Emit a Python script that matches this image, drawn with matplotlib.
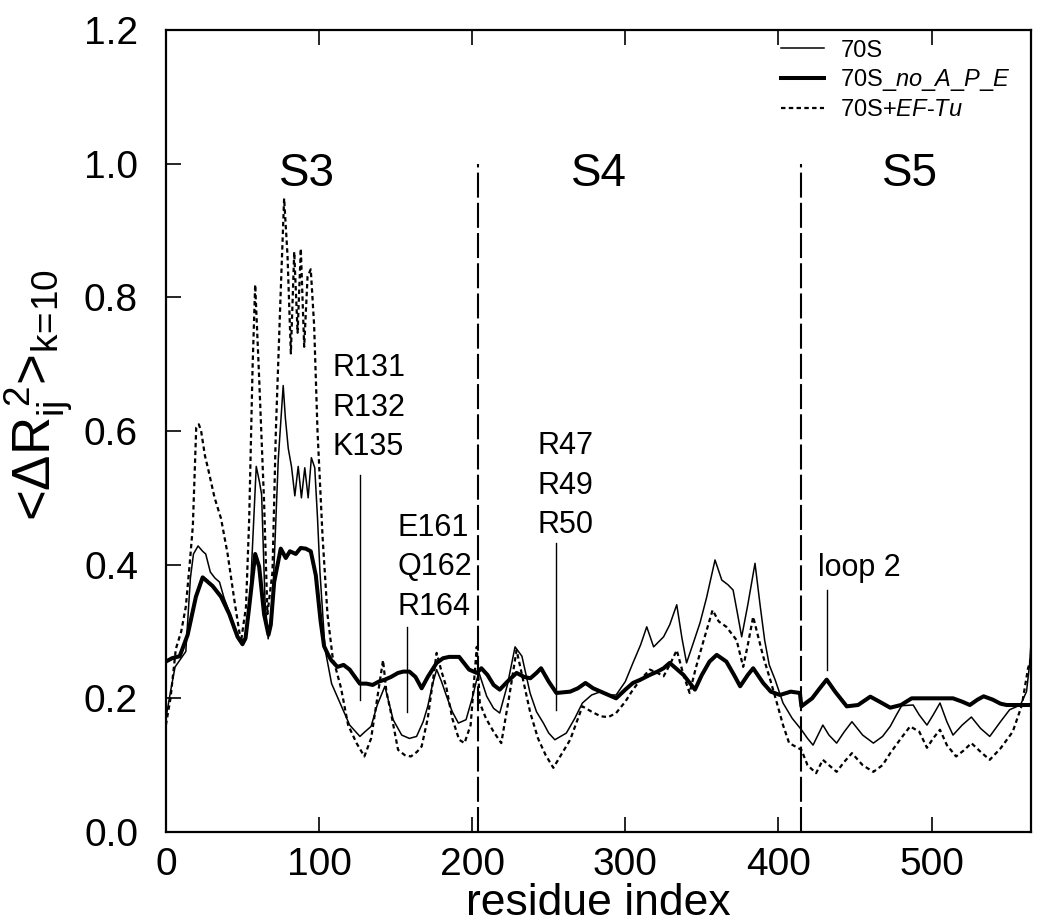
import matplotlib
matplotlib.use("Agg")
import matplotlib.pyplot as plt

plt.rcParams['font.family'] = ['Liberation Sans', 'DejaVu Sans']
plt.rcParams['mathtext.fontset'] = 'custom'
plt.rcParams['mathtext.rm'] = 'Liberation Sans'
plt.rcParams['mathtext.it'] = 'Liberation Sans:italic'
plt.rcParams['mathtext.bf'] = 'Liberation Sans:bold'

# 70S (thin solid)
thin_x = [0, 3, 6, 10, 13, 16, 18, 21, 24, 26, 29, 32, 35, 38, 42, 45, 48, 52, 55, 57,
          59, 61, 62.5, 64.7, 66.8, 68.5, 70, 73.4, 76.6, 78, 79.9, 82, 84.2, 86.4, 88.5,
          90.7, 92.9, 95, 97.2, 99, 100.6, 103.9, 108.2, 113.7, 120, 126.7, 130, 134, 138,
          143, 148.4, 154, 159, 163.7, 168, 171, 174, 176.8, 180, 183.3, 187, 191, 196, 200,
          203, 204.5, 209.5, 214, 218, 223, 228, 232.5, 237.8, 242, 246.5, 250, 254, 261.5,
          267, 272, 278, 284, 289, 294, 300, 305, 310, 314, 318.5, 322, 325, 329, 333.6,
          337, 340, 344, 348.8, 353, 358.6, 363, 367, 370.4, 373, 376, 380, 384.7, 388,
          391, 394, 397.8, 403, 409, 415, 419, 422.6, 429, 433, 438, 443, 448, 455, 462,
          468, 473, 477, 480.5, 488, 492, 497, 501, 505.5, 510, 514, 520, 526, 532, 538,
          545, 551, 558, 562, 564, 565]
thin_y = [0.17, 0.21, 0.247, 0.26, 0.27, 0.38, 0.416, 0.428, 0.42, 0.416, 0.389, 0.38, 0.374,
          0.35, 0.326, 0.305, 0.289, 0.287, 0.352, 0.45, 0.547, 0.525, 0.505, 0.347, 0.289,
          0.32, 0.363, 0.558, 0.668, 0.62, 0.574, 0.547, 0.503, 0.547, 0.5, 0.545, 0.5, 0.56,
          0.545, 0.47, 0.389, 0.274, 0.222, 0.193, 0.16, 0.143, 0.15, 0.158, 0.19, 0.218,
          0.168, 0.145, 0.14, 0.143, 0.165, 0.188, 0.22, 0.243, 0.225, 0.203, 0.18, 0.163,
          0.168, 0.2, 0.228, 0.238, 0.203, 0.185, 0.178, 0.22, 0.277, 0.263, 0.208, 0.18,
          0.163, 0.148, 0.138, 0.148, 0.17, 0.193, 0.205, 0.21, 0.205, 0.205, 0.225, 0.253,
          0.28, 0.307, 0.277, 0.285, 0.292, 0.31, 0.34, 0.29, 0.253, 0.28, 0.313, 0.35,
          0.407, 0.377, 0.37, 0.362, 0.33, 0.292, 0.34, 0.402, 0.34, 0.287, 0.25, 0.228,
          0.193, 0.17, 0.153, 0.14, 0.13, 0.16, 0.145, 0.133, 0.15, 0.165, 0.145, 0.133,
          0.143, 0.158, 0.175, 0.189, 0.19, 0.175, 0.16, 0.175, 0.193, 0.165, 0.145, 0.16,
          0.172, 0.155, 0.143, 0.165, 0.183, 0.19, 0.21, 0.25, 0.285]

# 70S_no_A_P_E (thick solid)
thick_x = [0, 4, 9, 14.2, 19.6, 24, 27, 30.5, 36, 41.4, 46.8, 50, 52, 54.4, 58.3, 60.9, 64.1,
           67, 68.5, 70.7, 75, 78.3, 81, 84.8, 88, 91.3, 94.6, 97.9, 101, 103.3, 106, 108,
           112, 116, 120, 126.6, 131, 135, 139, 143, 147, 151.6, 155, 159, 163, 167, 171,
           176.8, 181, 185, 191.5, 198, 203, 206, 210, 214, 218, 223, 229, 234, 238, 242,
           245, 250, 255, 264, 269, 274, 279, 284, 289, 294, 300, 305, 310, 316, 321, 325,
           329, 333, 338, 345.5, 350, 355, 359.7, 366, 371, 375, 380, 383.5, 390, 395, 401,
           408, 414, 415, 422, 427, 431.5, 437, 444.6, 452, 460, 466, 473, 480, 487, 494.6,
           500, 507, 514, 520, 525, 530, 534, 540, 545, 549, 556, 565]
thick_y = [0.255, 0.26, 0.263, 0.295, 0.352, 0.381, 0.375, 0.368, 0.352, 0.326, 0.292, 0.281,
           0.29, 0.337, 0.416, 0.397, 0.326, 0.295, 0.31, 0.374, 0.424, 0.41, 0.42, 0.416,
           0.425, 0.424, 0.42, 0.384, 0.316, 0.278, 0.265, 0.257, 0.247, 0.25, 0.243, 0.222,
           0.222, 0.22, 0.225, 0.228, 0.232, 0.238, 0.24, 0.24, 0.232, 0.215, 0.232, 0.253,
           0.26, 0.262, 0.262, 0.243, 0.238, 0.245, 0.235, 0.22, 0.213, 0.225, 0.238, 0.232,
           0.23, 0.238, 0.245, 0.225, 0.208, 0.21, 0.215, 0.223, 0.215, 0.21, 0.205, 0.2,
           0.213, 0.223, 0.228, 0.235, 0.24, 0.245, 0.253, 0.245, 0.235, 0.213, 0.235, 0.255,
           0.265, 0.255, 0.235, 0.218, 0.235, 0.245, 0.223, 0.21, 0.205, 0.21, 0.208, 0.188,
           0.2, 0.215, 0.228, 0.21, 0.188, 0.19, 0.2025, 0.195, 0.186, 0.19, 0.2, 0.2, 0.2,
           0.2, 0.2, 0.195, 0.19, 0.198, 0.203, 0.198, 0.192, 0.19, 0.19, 0.19]

# 70S+EF-Tu (dotted)
eftu_x = [0, 3, 6.5, 10, 13, 15.5, 17.6, 19.8, 21.5, 23, 25.5, 27.4, 31.8, 36, 40.3, 44.7, 49,
          52.3, 54.4, 56.6, 58.3, 60.9, 64.1, 66.3, 69.6, 71.8, 75, 77.2, 79.4, 81.6, 83.8,
          86, 88.1, 90.3, 92.5, 94.6, 96.8, 99, 102.3, 105.5, 108.8, 114.3, 119, 124.5,
          129.6, 134, 138, 141.8, 144, 147, 151.6, 156, 160, 164, 167, 171, 174, 176.8, 180,
          183, 187, 191.5, 195, 199, 203, 205, 209, 214, 219, 224, 229, 234, 238, 243, 248,
          253, 258, 264, 272, 278, 284, 289, 294, 300, 305, 310, 316, 321, 325, 329, 333.6,
          338, 342, 346, 350.7, 357, 361, 366, 372.7, 377, 380, 383.5, 387, 390, 395, 399,
          403, 407, 415, 419, 424.6, 429, 433, 438, 443, 448, 455, 462, 468, 473, 480, 486,
          492, 497, 501, 505.5, 510, 516, 521, 526, 532, 538, 545, 553, 559, 563, 565]
eftu_y = [0.16, 0.2, 0.274, 0.3, 0.337, 0.4, 0.458, 0.605, 0.61, 0.6, 0.563, 0.545, 0.5, 0.469,
          0.416, 0.347, 0.284, 0.337, 0.469, 0.695, 0.819, 0.679, 0.495, 0.326, 0.389, 0.6,
          0.81, 0.948, 0.863, 0.716, 0.868, 0.747, 0.873, 0.726, 0.831, 0.842, 0.758, 0.6,
          0.442, 0.326, 0.263, 0.216, 0.16, 0.133, 0.113, 0.14, 0.2, 0.257, 0.21, 0.178,
          0.123, 0.115, 0.113, 0.12, 0.128, 0.17, 0.22, 0.268, 0.24, 0.218, 0.17, 0.138,
          0.133, 0.16, 0.277, 0.193, 0.17, 0.15, 0.133, 0.2, 0.272, 0.22, 0.178, 0.14, 0.115,
          0.096, 0.115, 0.138, 0.188, 0.18, 0.173, 0.172, 0.178, 0.195, 0.213, 0.228, 0.243,
          0.238, 0.233, 0.25, 0.272, 0.235, 0.208, 0.245, 0.283, 0.332, 0.315, 0.307, 0.287,
          0.247, 0.28, 0.322, 0.29, 0.263, 0.225, 0.193, 0.16, 0.133, 0.123, 0.1, 0.088,
          0.108, 0.1, 0.09, 0.105, 0.118, 0.1, 0.09, 0.1, 0.118, 0.14, 0.158, 0.15, 0.126,
          0.14, 0.153, 0.13, 0.113, 0.122, 0.133, 0.12, 0.108, 0.125, 0.15, 0.19, 0.245, 0.26]

# domains
domain_names = ['S3', 'S4', 'S5']
domain_centers = [92, 283, 486]
domain_bounds = [204, 415]

# residue annotations: text lines, pointer x, pointer bottom/top
annot_text = [['R131', 'R132', 'K135'], ['E161', 'Q162', 'R164'], ['R47', 'R49', 'R50'], ['loop 2']]
annot_x = [127, 157.2, 254.5, 432]
annot_lo = [0.198, 0.18, 0.183, 0.243]
annot_hi = [0.534, 0.307, 0.432, 0.362]
annot_tx = [109, 151, 261, 426]
annot_ty = [0.694, 0.455, 0.577, 0.395]
annot_ha = ['left', 'left', 'center', 'left']

fig = plt.figure(figsize=(10.5, 9.23), dpi=100)
ax = fig.add_axes([0.158, 0.0986, 0.824, 0.8689])

ax.plot(thin_x, thin_y, color='black', lw=1.1, label='70S')
ax.plot(thick_x, thick_y, color='black', lw=2.9, label=r'70S$\mathit{\_no\_A\_P\_E}$')
ax.plot(eftu_x, eftu_y, color='black', lw=1.6, linestyle=(0, (2, 1.5)),
        label=r'70S$\mathit{+EF}$-$\mathit{Tu}$')

ax.vlines(domain_bounds, 0, 1.0, colors='black', lw=1.5, linestyles=(0, (12, 2.5)))

for name, xc in zip(domain_names, domain_centers):
    ax.text(xc, 0.985, name, fontsize=33, ha='center', va='center')

for lines, px, lo, hi, tx, ty, ha in zip(annot_text, annot_x, annot_lo, annot_hi,
                                         annot_tx, annot_ty, annot_ha):
    ax.plot([px, px], [lo, hi], color='black', lw=1.0)
    for i, s in enumerate(lines):
        ax.text(tx, ty - i * 0.059, s, fontsize=22, ha=ha, va='center')

ax.set_xlim(0, 565)
ax.set_ylim(0, 1.2)
ax.set_xticks([0, 100, 200, 300, 400, 500])
ax.set_yticks([0.0, 0.2, 0.4, 0.6, 0.8, 1.0, 1.2])
ax.set_yticklabels(['0.0', '0.2', '0.4', '0.6', '0.8', '1.0', '1.2'])
ax.tick_params(axis='both', direction='in', length=11, width=1.2, top=True, right=False,
               labelsize=28)
ax.tick_params(axis='y', pad=20)
ax.tick_params(axis='x', pad=11)
for sp in ax.spines.values():
    sp.set_linewidth(1.6)

ax.set_xlabel('residue index', fontsize=32, labelpad=0)
ax.set_ylabel(r'<$\Delta$R$_{\mathrm{ij}}^{\ 2}$>$_{\mathrm{k\!=\!10}}$', fontsize=38)
ax.yaxis.set_label_coords(-0.105, 0.545)

ax.legend(loc='upper left', bbox_to_anchor=(0.706, 0.994), frameon=False, fontsize=17,
          handlelength=1.8, handletextpad=0.7, labelspacing=0.25, borderpad=0.2,
          borderaxespad=0)

fig.savefig('out.png', dpi=100)
